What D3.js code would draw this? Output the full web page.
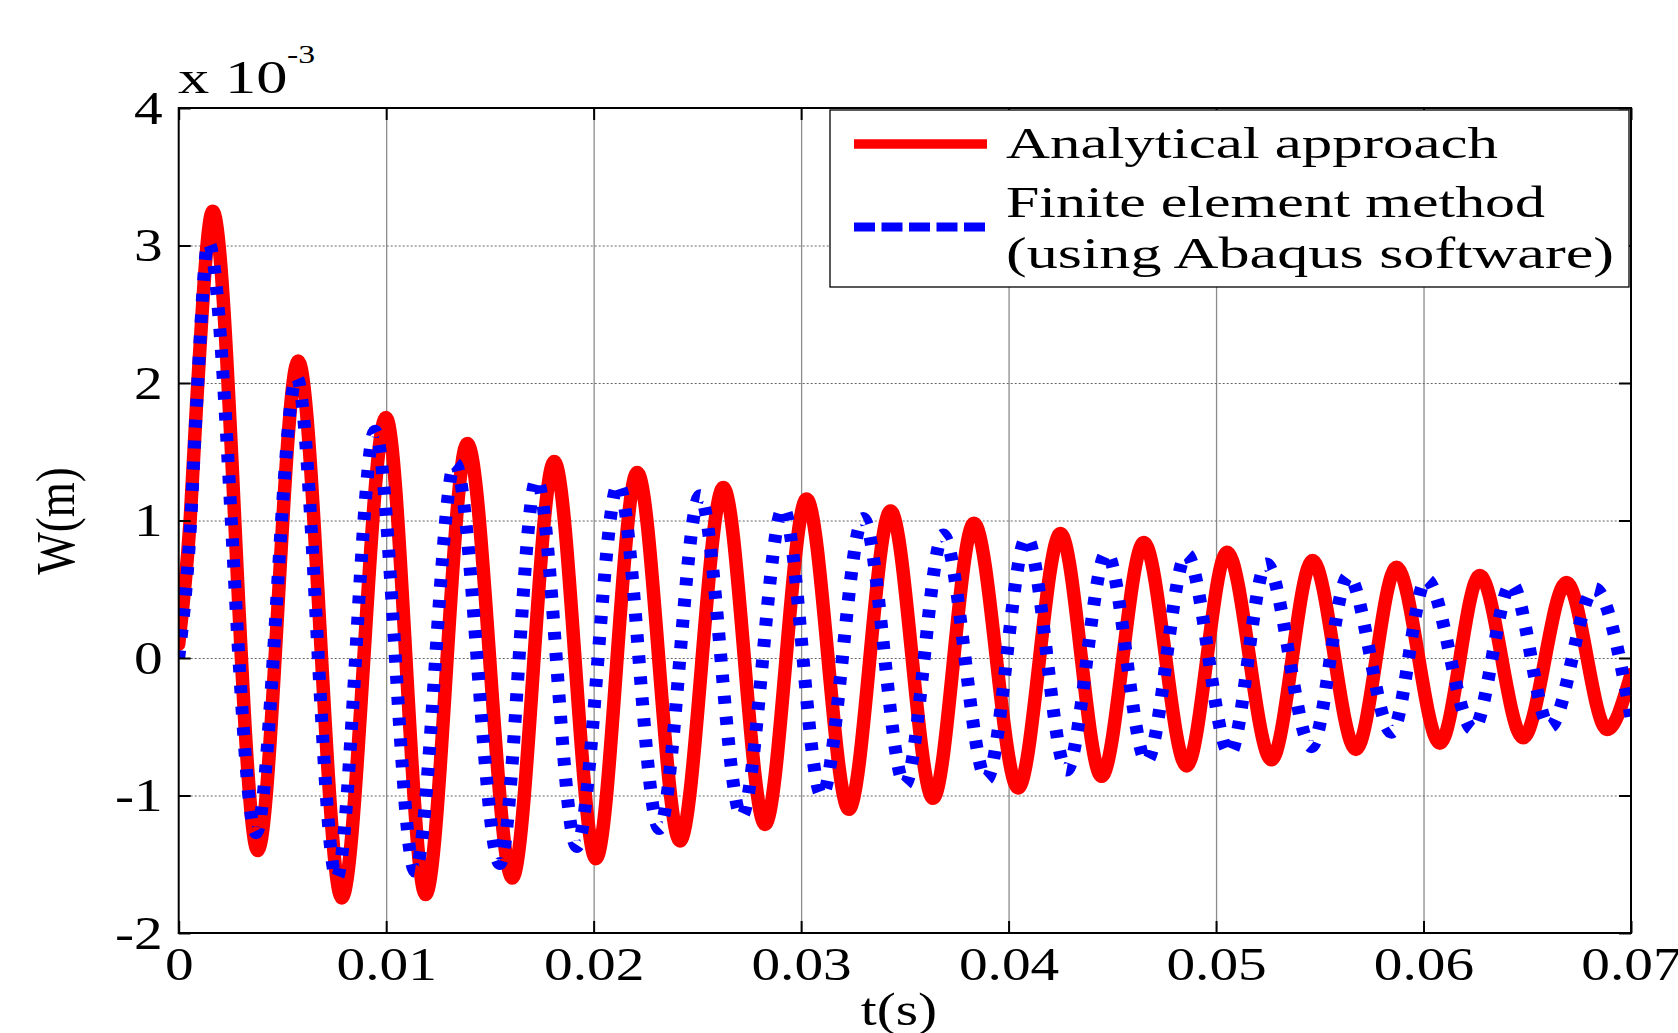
<!DOCTYPE html>
<html>
<head>
<meta charset="utf-8">
<script src="https://cdn.jsdelivr.net/npm/d3@7"></script>
<style>
  body { margin: 0; background: #fff; }
  svg text { font-family: "Liberation Serif", "Times New Roman", serif; fill: #000; }
  .x-axis text { transform-box: fill-box; transform-origin: 50% 50%; transform: scaleX(1.22); }
  .y-axis text { transform-box: fill-box; transform-origin: 100% 50%; transform: scaleX(1.22); }
</style>
</head>
<body>
<svg id="chart" width="1678" height="1033"></svg>
<script>
// time (s) and deflection (x 10^-3 m) at the turning points
var timeAnalytical = [0, 0.00055, 0.00087, 0.00164, 0.00381, 0.00576, 0.00786, 0.00999, 0.0119, 0.01391,
  0.01608, 0.0181, 0.02011, 0.0221, 0.02416, 0.02625, 0.02826, 0.03026, 0.0323, 0.03431, 0.03636,
  0.03833, 0.04046, 0.0425, 0.04448, 0.04652, 0.04858, 0.05053, 0.05267, 0.05465, 0.05674, 0.0587,
  0.06079, 0.06271, 0.0648, 0.06689, 0.06885, 0.07];
var wAnalytical = [0.1, 1.0, 1.87, 3.25, -1.40, 2.16, -1.745, 1.75, -1.72, 1.56,
  -1.60, 1.43, -1.46, 1.35, -1.33, 1.24, -1.21, 1.156, -1.10, 1.07, -1.02,
  0.98, -0.945, 0.905, -0.86, 0.84, -0.785, 0.77, -0.74, 0.71, -0.665, 0.66,
  -0.62, 0.60, -0.58, 0.55, -0.52, -0.12];

var timeFem = [0, 0.00054, 0.00087, 0.00143, 0.00373, 0.00569, 0.00761, 0.00946, 0.01139, 0.01332,
  0.01548, 0.01725, 0.01918, 0.02119, 0.02316, 0.02512, 0.02713, 0.02914, 0.03099, 0.033, 0.035,
  0.03685, 0.03894, 0.04087, 0.0428, 0.04472, 0.04665, 0.04858, 0.05066, 0.05243, 0.0546, 0.05637,
  0.05846, 0.06014, 0.06239, 0.06424, 0.06609, 0.06825, 0.07];
var wFem = [0.0, 0.9, 1.87, 3.02, -1.27, 2.04, -1.60, 1.65, -1.55, 1.415,
  -1.495, 1.30, -1.37, 1.265, -1.24, 1.18, -1.15, 1.09, -1.0, 1.015, -0.92,
  0.895, -0.88, 0.876, -0.815, 0.764, -0.75, 0.753, -0.695, 0.684, -0.645, 0.596,
  -0.54, 0.571, -0.52, 0.54, -0.50, 0.505, -0.43];

var xTicks = [0, 0.01, 0.02, 0.03, 0.04, 0.05, 0.06, 0.07];
var yTicks = [-2, -1, 0, 1, 2, 3, 4];
var xGrid = [0.01, 0.02, 0.03, 0.04, 0.05, 0.06];
var yGrid = [-1, 0, 1, 2, 3];
var legendLabels = ["Analytical approach", "Finite element method", "(using Abaqus software)"];

var plotLeft = 178.7, plotRight = 1631, plotTop = 108, plotBottom = 933;

var svg = d3.select("#chart");

var x = d3.scaleLinear().domain([0, 0.07]).range([plotLeft, plotRight]);
var y = d3.scaleLinear().domain([-2, 4]).range([plotBottom, plotTop]);

// grid
svg.append("g")
    .attr("transform", "translate(0," + plotBottom + ")")
    .call(d3.axisBottom(x).tickValues(xGrid).tickSize(-(plotBottom - plotTop)).tickFormat(""))
    .call(g => g.select(".domain").remove())
    .selectAll("line")
    .attr("stroke", "#8c8c8c")
    .attr("stroke-width", 1.3);

svg.append("g")
    .attr("transform", "translate(" + plotLeft + ",0)")
    .call(d3.axisLeft(y).tickValues(yGrid).tickSize(-(plotRight - plotLeft)).tickFormat(""))
    .call(g => g.select(".domain").remove())
    .selectAll("line")
    .attr("stroke", "#666")
    .attr("stroke-width", 1)
    .attr("stroke-dasharray", "2,2");

// curves
svg.append("clipPath").attr("id", "plot-clip")
  .append("rect")
    .attr("x", plotLeft).attr("y", plotTop)
    .attr("width", plotRight - plotLeft).attr("height", plotBottom - plotTop);

var line = d3.line()
    .x(d => x(d[0]))
    .y(d => y(d[1]))
    .curve(d3.curveMonotoneX);

svg.append("path")
    .datum(d3.zip(timeAnalytical, wAnalytical))
    .attr("clip-path", "url(#plot-clip)")
    .attr("d", line)
    .attr("fill", "none")
    .attr("stroke", "#ff0000")
    .attr("stroke-width", 13.5)
    .attr("stroke-linejoin", "round")
    .attr("stroke-linecap", "round");

svg.append("path")
    .datum(d3.zip(timeFem, wFem))
    .attr("clip-path", "url(#plot-clip)")
    .attr("d", line)
    .attr("fill", "none")
    .attr("stroke", "#0000ff")
    .attr("stroke-width", 13)
    .attr("stroke-dasharray", "8,13");

// axes with inward ticks
var xAxis = svg.append("g")
    .attr("class", "x-axis")
    .attr("transform", "translate(0," + plotBottom + ")")
    .call(d3.axisBottom(x).tickValues(xTicks).tickSize(-12)
      .tickFormat(d => d === 0 ? "0" : d.toFixed(2)));
xAxis.select(".domain").remove();
xAxis.selectAll("line").attr("stroke", "#000").attr("stroke-width", 2);
xAxis.selectAll("text")
    .attr("y", 47)
    .attr("dy", null)
    .style("font-size", "47px");

var yAxis = svg.append("g")
    .attr("class", "y-axis")
    .attr("transform", "translate(" + plotLeft + ",0)")
    .call(d3.axisLeft(y).tickValues(yTicks).tickSize(-12).tickFormat(d => String(d)));
yAxis.select(".domain").remove();
yAxis.selectAll("line").attr("stroke", "#000").attr("stroke-width", 2);
yAxis.selectAll("text")
    .attr("x", -16)
    .attr("dy", "0.32em")
    .style("font-size", "47px");

var topAxis = svg.append("g")
    .attr("transform", "translate(0," + plotTop + ")")
    .call(d3.axisTop(x).tickValues(xTicks).tickSize(-12).tickFormat(""));
topAxis.select(".domain").remove();
topAxis.selectAll("line").attr("stroke", "#000").attr("stroke-width", 2);

var rightAxis = svg.append("g")
    .attr("transform", "translate(" + plotRight + ",0)")
    .call(d3.axisRight(y).tickValues(yTicks).tickSize(-12).tickFormat(""));
rightAxis.select(".domain").remove();
rightAxis.selectAll("line").attr("stroke", "#000").attr("stroke-width", 2);

// frame
svg.append("rect")
    .attr("x", plotLeft).attr("y", plotTop)
    .attr("width", plotRight - plotLeft).attr("height", plotBottom - plotTop)
    .attr("fill", "none")
    .attr("stroke", "#000")
    .attr("stroke-width", 2);

// exponent label
svg.append("text")
    .attr("transform", "translate(178,93) scale(1.33,1)")
    .style("font-size", "47px")
    .text("x 10");
svg.append("text")
    .attr("transform", "translate(287,63) scale(1.3,1)")
    .style("font-size", "26px")
    .text("-3");

// axis titles
svg.append("text")
    .attr("transform", "translate(74,521) scale(1.22,1) rotate(-90)")
    .attr("text-anchor", "middle")
    .style("font-size", "45px")
    .text("W(m)");
svg.append("text")
    .attr("transform", "translate(899,1025) scale(1.22,1)")
    .attr("text-anchor", "middle")
    .style("font-size", "47px")
    .text("t(s)");

// legend
var legend = svg.append("g").attr("class", "legend");
legend.append("rect")
    .attr("x", 830).attr("y", 110)
    .attr("width", 799).attr("height", 177)
    .attr("fill", "#fff")
    .attr("stroke", "#000")
    .attr("stroke-width", 1.3);
legend.append("line")
    .attr("x1", 854).attr("x2", 987)
    .attr("y1", 144).attr("y2", 144)
    .attr("stroke", "#ff0000")
    .attr("stroke-width", 9.5);
legend.append("line")
    .attr("x1", 854).attr("x2", 987)
    .attr("y1", 227).attr("y2", 227)
    .attr("stroke", "#0000ff")
    .attr("stroke-width", 9)
    .attr("stroke-dasharray", "21,6.5");

var legendRows = [
  { text: legendLabels[0], baseline: 158, width: 492 },
  { text: legendLabels[1], baseline: 217, width: 539 },
  { text: legendLabels[2], baseline: 268, width: 608 }
];
legend.selectAll("text.entry")
    .data(legendRows)
  .enter().append("text")
    .attr("class", "entry")
    .attr("x", 1006)
    .attr("y", d => d.baseline)
    .attr("textLength", d => d.width)
    .attr("lengthAdjust", "spacingAndGlyphs")
    .style("font-size", "45px")
    .text(d => d.text);
</script>
</body>
</html>
